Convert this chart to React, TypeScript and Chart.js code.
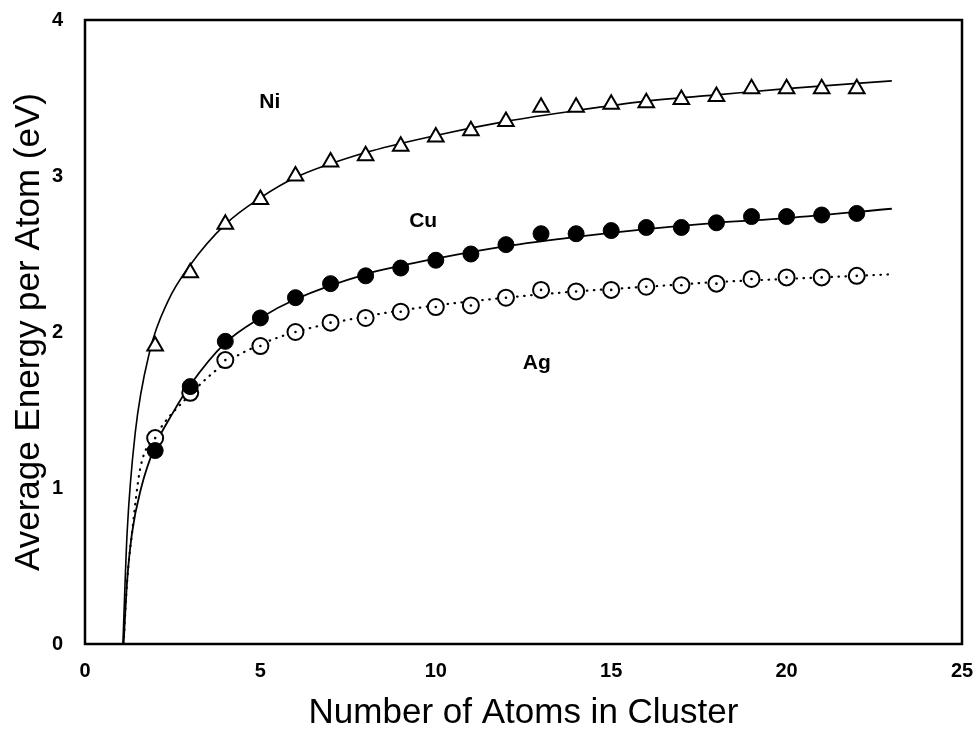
import React, { useEffect, useRef } from "react";
import { Chart, registerables } from "chart.js";

Chart.register(...registerables);

// Cluster sizes (number of atoms)
const atomCounts = [2, 3, 4, 5, 6, 7, 8, 9, 10, 11, 12, 13, 14, 15, 16, 17, 18, 19, 20, 21, 22];

// Computed average energy per atom (eV)
const niValues = [1.91, 2.38, 2.69, 2.85, 3.0, 3.09, 3.13, 3.19, 3.25, 3.29, 3.35, 3.44, 3.44, 3.46, 3.47, 3.49, 3.51, 3.56, 3.56, 3.56, 3.56];
const cuValues = [1.24, 1.65, 1.94, 2.09, 2.22, 2.31, 2.36, 2.41, 2.46, 2.5, 2.56, 2.63, 2.63, 2.65, 2.67, 2.67, 2.7, 2.74, 2.74, 2.75, 2.76];
const agValues = [1.32, 1.61, 1.82, 1.91, 2.0, 2.06, 2.09, 2.13, 2.16, 2.17, 2.22, 2.27, 2.26, 2.27, 2.29, 2.3, 2.31, 2.34, 2.35, 2.35, 2.36];

// Fitted curves
const niFitX = [1.08, 1.2, 1.43, 1.85, 2.37, 3, 4, 5, 6, 8, 10, 12, 14, 16, 18, 20, 23];
const niFitY = [0, 0.71, 1.35, 1.88, 2.2, 2.43, 2.69, 2.86, 2.99, 3.15, 3.26, 3.35, 3.42, 3.48, 3.52, 3.56, 3.61];
const cuFitX = [1.1, 1.2, 1.34, 1.6, 2, 2.5, 3, 4, 5, 6, 8, 10, 12, 14, 16, 18, 20, 23];
const cuFitY = [0, 0.4, 0.71, 1.0, 1.27, 1.48, 1.66, 1.93, 2.09, 2.21, 2.37, 2.47, 2.55, 2.61, 2.66, 2.7, 2.73, 2.79];
const agFitX = [1.1, 1.2, 1.34, 1.57, 2, 3, 4, 5, 6, 8, 10, 12, 14, 16, 18, 20, 23];
const agFitY = [0, 0.4, 0.71, 1.12, 1.33, 1.6, 1.8, 1.92, 2.0, 2.1, 2.17, 2.22, 2.26, 2.29, 2.32, 2.34, 2.37];

// Inline element labels
const labelTexts = ["Ni", "Cu", "Ag"];
const labelX = [5.27, 9.64, 12.88];
const labelY = [3.47, 2.71, 1.8];

// Axis ticks
const xTickValues = [0, 5, 10, 15, 20, 25];
const yTickValues = [0, 1, 2, 3, 4];

const FONT = "'Liberation Sans', Arial, Helvetica, sans-serif";

const pts = (xs: number[], ys: number[]) => xs.map((x, i) => ({ x, y: ys[i] }));

const framePlugin = {
  id: "frame",
  afterDatasetsDraw(chart: any) {
    const { ctx, chartArea } = chart;
    ctx.save();
    ctx.strokeStyle = "#000";
    ctx.lineWidth = 2.5;
    ctx.strokeRect(chartArea.left, chartArea.top, chartArea.right - chartArea.left, chartArea.bottom - chartArea.top);
    ctx.restore();
  },
};

const labelPlugin = {
  id: "elementLabels",
  afterDatasetsDraw(chart: any) {
    const { ctx, scales } = chart;
    ctx.save();
    ctx.fillStyle = "#000";
    ctx.font = `bold 21px ${FONT}`;
    ctx.textAlign = "center";
    ctx.textBaseline = "middle";
    labelTexts.forEach((t, i) => {
      ctx.fillText(t, scales.x.getPixelForValue(labelX[i]), scales.y.getPixelForValue(labelY[i]));
    });
    ctx.restore();
  },
};

export default function App() {
  const canvasRef = useRef<HTMLCanvasElement | null>(null);

  useEffect(() => {
    document.body.style.margin = "0";
    const canvas = canvasRef.current;
    if (!canvas) return;
    const chart = new Chart(canvas, {
      type: "scatter",
      data: {
        datasets: [
          {
            label: "Ag centre",
            data: pts(atomCounts, agValues),
            showLine: false,
            pointStyle: "circle",
            pointRadius: 1.3,
            pointBackgroundColor: "#000",
            pointBorderWidth: 0,
          },
          {
            label: "Ni",
            data: pts(atomCounts, niValues),
            showLine: false,
            pointStyle: "triangle",
            pointRadius: 9,
            pointBackgroundColor: "#fff",
            pointBorderColor: "#000",
            pointBorderWidth: 2,
          },
          {
            label: "Cu",
            data: pts(atomCounts, cuValues),
            showLine: false,
            pointStyle: "circle",
            pointRadius: 8,
            pointBackgroundColor: "#000",
            pointBorderColor: "#000",
            pointBorderWidth: 1,
          },
          {
            label: "Ag",
            data: pts(atomCounts, agValues),
            showLine: false,
            pointStyle: "circle",
            pointRadius: 8,
            pointBackgroundColor: "#fff",
            pointBorderColor: "#000",
            pointBorderWidth: 2,
          },
          {
            label: "Ni fit",
            data: pts(niFitX, niFitY),
            showLine: true,
            pointRadius: 0,
            borderColor: "#000",
            borderWidth: 1.6,
            cubicInterpolationMode: "monotone",
          },
          {
            label: "Cu fit",
            data: pts(cuFitX, cuFitY),
            showLine: true,
            pointRadius: 0,
            borderColor: "#000",
            borderWidth: 1.8,
            cubicInterpolationMode: "monotone",
          },
          {
            label: "Ag fit",
            data: pts(agFitX, agFitY),
            showLine: true,
            pointRadius: 0,
            borderColor: "#000",
            borderWidth: 2.2,
            borderDash: [0.5, 6.5],
            borderCapStyle: "round",
            cubicInterpolationMode: "monotone",
          },
        ],
      },
      options: {
        animation: false,
        responsive: true,
        maintainAspectRatio: false,
        layout: { padding: { top: 20, right: 17, left: 0, bottom: 0 } },
        plugins: { legend: { display: false }, tooltip: { enabled: false } },
        scales: {
          x: {
            type: "linear",
            min: 0,
            max: 25,
            afterBuildTicks: (scale: any) => {
              scale.ticks = xTickValues.map((v) => ({ value: v }));
            },
            afterFit: (scale: any) => {
              scale.height = 85;
              scale.paddingLeft = 0;
              scale.paddingRight = 0;
            },
            grid: { display: false, drawTicks: false },
            border: { display: false },
            ticks: {
              color: "#000",
              padding: 15,
              maxRotation: 0,
              font: { family: FONT, size: 20, weight: "bold" },
            },
            title: {
              display: true,
              text: "Number of Atoms in Cluster",
              color: "#000",
              font: { family: FONT, size: 35, lineHeight: 0.9 },
              padding: { top: 0, bottom: 0 },
            },
          },
          y: {
            type: "linear",
            min: 0,
            max: 4,
            afterBuildTicks: (scale: any) => {
              scale.ticks = yTickValues.map((v) => ({ value: v }));
            },
            afterFit: (scale: any) => {
              scale.width = 85;
              scale.paddingTop = 0;
              scale.paddingBottom = 0;
            },
            grid: { display: false, drawTicks: false },
            border: { display: false },
            ticks: {
              color: "#000",
              padding: 22,
              font: { family: FONT, size: 20, weight: "bold" },
            },
            title: {
              display: true,
              text: "Average Energy per Atom (eV)",
              color: "#000",
              font: { family: FONT, size: 35, lineHeight: 1.0 },
              padding: { top: 12, bottom: 0 },
            },
          },
        },
      },
      plugins: [framePlugin, labelPlugin],
    } as any);
    return () => chart.destroy();
  }, []);

  return (
    <div style={{ position: "fixed", left: 0, top: 0, width: 979, height: 729, background: "#fff" }}>
      <canvas ref={canvasRef} />
    </div>
  );
}
